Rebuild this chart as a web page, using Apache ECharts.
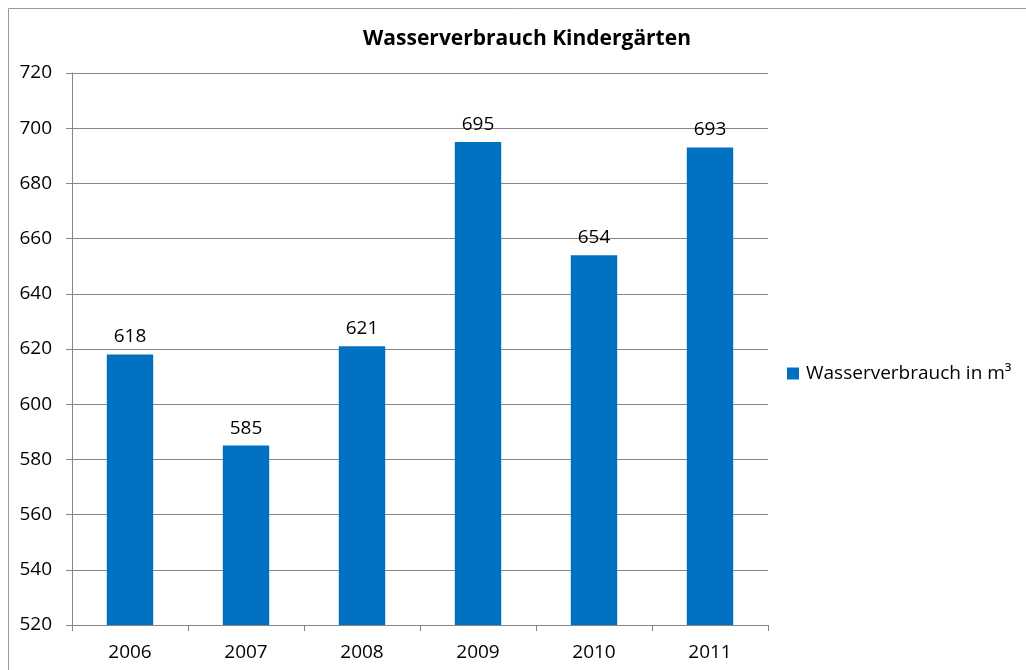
<!DOCTYPE html>
<html>
<head>
<meta charset="utf-8">
<script src="https://cdn.jsdelivr.net/npm/echarts@6/dist/echarts.min.js"></script>
<style>
html,body{margin:0;padding:0;background:#fff;}
#c{width:1026px;height:670px;}
</style>
</head>
<body>
<div id="c"></div>
<script>
var categories = ['2006', '2007', '2008', '2009', '2010', '2011'];
var values = [618, 585, 621, 695, 654, 693];
var seriesName = 'Wasserverbrauch in m³';
var titleText = 'Wasserverbrauch Kindergärten';

var chart = echarts.init(document.getElementById('c'), null, {renderer: 'canvas'});
var font = '"Open Sans", "Noto Sans", sans-serif';
chart.setOption({
  animation: false,
  backgroundColor: '#fff',
  graphic: [{
    type: 'rect',
    shape: {x: 8.5, y: 8.5, width: 1100, height: 700},
    style: {fill: 'none', stroke: '#9a9a9a', lineWidth: 1},
    silent: true
  }],
  title: {
    text: titleText,
    left: 522, top: 24, textAlign: 'center',
    textStyle: {fontFamily: font, fontWeight: 'bold', fontSize: 21, color: '#000'}
  },
  legend: {
    data: [seriesName],
    left: 782, top: 359, orient: 'vertical',
    icon: 'rect', itemWidth: 12, itemHeight: 12, itemGap: 5,
    textStyle: {fontFamily: font, fontSize: 19, color: '#000', padding: [0, 0, 0, 2]}
  },
  grid: {left: 72, right: 258, top: 73, bottom: 45, containLabel: false},
  xAxis: {
    type: 'category',
    data: categories,
    axisLine: {lineStyle: {color: '#868686'}},
    axisTick: {show: true, length: 6, alignWithLabel: false, lineStyle: {color: '#868686'}},
    axisLabel: {fontFamily: font, fontSize: 19, color: '#000', margin: 18}
  },
  yAxis: {
    type: 'value',
    min: 520, max: 720, interval: 20,
    axisLine: {show: true, lineStyle: {color: '#868686'}},
    axisTick: {show: true, length: 6, lineStyle: {color: '#868686'}},
    axisLabel: {fontFamily: font, fontSize: 19, color: '#000', margin: 20},
    splitLine: {show: true, lineStyle: {color: '#868686', width: 1}}
  },
  series: [{
    name: seriesName,
    type: 'bar',
    data: values,
    barWidth: '40%',
    itemStyle: {color: '#0070C0'},
    label: {show: true, position: 'top', distance: 8, fontFamily: font, fontSize: 19, color: '#000'}
  }]
});
</script>
</body>
</html>
